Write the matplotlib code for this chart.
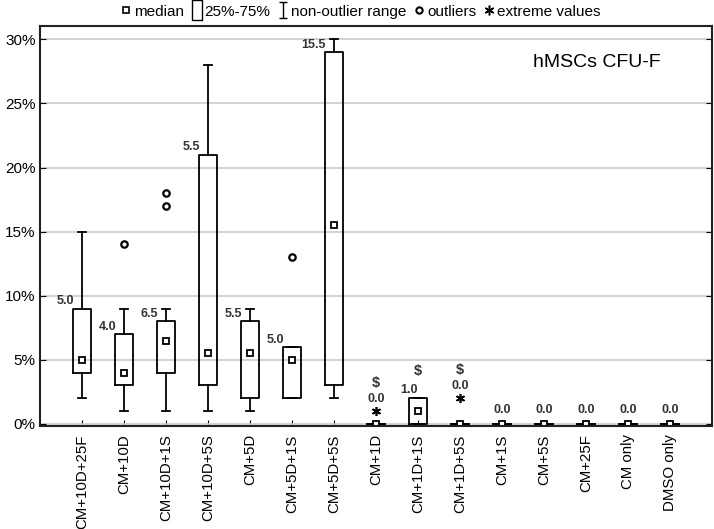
import numpy as np
import matplotlib
matplotlib.use("Agg")
import matplotlib.pyplot as plt
from matplotlib.lines import Line2D
from matplotlib.path import Path
from matplotlib.ticker import PercentFormatter

plt.rcParams["font.family"] = ["Liberation Sans", "DejaVu Sans"]

# values in percent
groups = ["CM+10D+25F", "CM+10D", "CM+10D+1S", "CM+10D+5S", "CM+5D", "CM+5D+1S",
          "CM+5D+5S", "CM+1D", "CM+1D+1S", "CM+1D+5S", "CM+1S", "CM+5S",
          "CM+25F", "CM only", "DMSO only"]
medians = [5.0, 4.0, 6.5, 5.5, 5.5, 5.0, 15.5, 0.0, 1.0, 0.0, 0.0, 0.0, 0.0, 0.0, 0.0]
q1 = [4, 3, 4, 3, 2, 2, 3, 0, 0, 0, 0, 0, 0, 0, 0]
q3 = [9, 7, 8, 21, 8, 6, 29, 0, 2, 0, 0, 0, 0, 0, 0]
whisk_lo = [2, 1, 1, 1, 1, 2, 2, 0, 0, 0, 0, 0, 0, 0, 0]
whisk_hi = [15, 9, 9, 28, 9, 6, 30, 0, 2, 0, 0, 0, 0, 0, 0]
outliers = [[], [14], [17, 18], [], [], [13], [], [], [], [], [], [], [], [], []]
extremes = [[], [], [], [], [], [], [], [1], [], [2], [], [], [], [], []]
dollar = [False] * 7 + [True, True, True] + [False] * 5

fig = plt.figure(figsize=(7.14, 5.29), dpi=100)
ax = fig.add_axes([0.056, 0.195, 0.941, 0.756])

pos = np.arange(len(groups))
box_w = 0.42
stats = []
for i in range(len(groups)):
    stats.append({"med": medians[i], "q1": q1[i], "q3": q3[i],
                  "whislo": whisk_lo[i], "whishi": whisk_hi[i],
                  "mean": medians[i], "fliers": []})

# median shown as square marker (via the mean marker), no median line
ax.bxp(stats, positions=pos, widths=box_w, showmeans=True, showfliers=False,
       boxprops=dict(color="black", linewidth=1.3),
       whiskerprops=dict(color="black", linewidth=1.3),
       capprops=dict(color="black", linewidth=1.3),
       capwidths=0.21,
       medianprops=dict(linewidth=0),
       meanprops=dict(marker="s", markersize=4.8, markerfacecolor="white",
                      markeredgecolor="black", markeredgewidth=1.3))

for i in range(len(groups)):
    if outliers[i]:
        ax.plot([pos[i]] * len(outliers[i]), outliers[i], "o", ms=4.6,
                mfc="white", mec="black", mew=1.6)
    if extremes[i]:
        ax.plot([pos[i]] * len(extremes[i]), extremes[i], ls="none",
                marker=(6, 2, 0), ms=6.5, mec="black", mew=1.2)

# median value labels
lab_kw = dict(fontsize=9, fontweight="bold", color="#333333")
for i in range(len(groups)):
    txt = f"{medians[i]:.1f}"
    if q3[i] > 0:
        if q3[i] - q1[i] > 2:
            ax.text(pos[i] - box_w / 2 + 0.02, q3[i] + 0.1, txt, ha="right", va="bottom", **lab_kw)
        else:
            ax.text(pos[i] - 0.22, q3[i] + 0.2, txt, ha="center", va="bottom", **lab_kw)
        top = q3[i] + 1.4
    else:
        base = max(extremes[i]) + 0.5 if extremes[i] else 0.6
        ax.text(pos[i], base, txt, ha="center", va="bottom", **lab_kw)
        top = base + 1.0
    if dollar[i]:
        ax.text(pos[i], top + 0.15, "$", ha="center",
                va="bottom", fontsize=10.5, fontweight="bold", color="#333333")

ax.text(0.734, 0.908, "hMSCs CFU-F", transform=ax.transAxes, fontsize=14,
        ha="left", va="center")

ax.set_xlim(-1.0, len(groups))
ax.set_ylim(-0.15, 31.05)
ax.set_yticks(np.arange(0, 31, 5))
ax.yaxis.set_major_formatter(PercentFormatter(decimals=0))
ax.set_xticks(pos)
ax.set_xticklabels(groups, rotation=90, fontsize=10.8)
ax.tick_params(axis="y", direction="in", right=True, length=4, labelsize=11, pad=3)
ax.tick_params(axis="x", direction="in", length=4, pad=6)
ax.grid(axis="y", color="#cccccc", linewidth=1.2)
ax.set_axisbelow(True)
for s in ax.spines.values():
    s.set_linewidth(1.5)
    s.set_color("#222222")

# legend handles
rect = Path([(-0.45, -1), (0.45, -1), (0.45, 1), (-0.45, 1), (-0.45, -1)],
            [Path.MOVETO, Path.LINETO, Path.LINETO, Path.LINETO, Path.CLOSEPOLY])
ibeam = Path([(-0.5, 1), (0.5, 1), (0, 1), (0, -1), (-0.5, -1), (0.5, -1)],
             [Path.MOVETO, Path.LINETO, Path.MOVETO, Path.LINETO, Path.MOVETO, Path.LINETO])
handles = [
    Line2D([], [], ls="none", marker="s", ms=5, mfc="white", mec="black", mew=1.2),
    Line2D([], [], ls="none", marker=rect, ms=15, mfc="none", mec="black", mew=1.0),
    Line2D([], [], ls="none", marker=ibeam, ms=12, mfc="none", mec="black", mew=1.0),
    Line2D([], [], ls="none", marker="o", ms=4.5, mfc="white", mec="black", mew=1.5),
    Line2D([], [], ls="none", marker=(6, 2, 0), ms=7, mec="black", mew=1.1),
]
names = ["median", "25%-75%", "non-outlier range", "outliers", "extreme values"]
fig.legend(handles, names, loc="center", bbox_to_anchor=(0.505, 0.978), ncol=5,
           frameon=False, fontsize=11, handlelength=0.7, handletextpad=0.15,
           columnspacing=0.5)

fig.savefig("out.png", dpi=100)
